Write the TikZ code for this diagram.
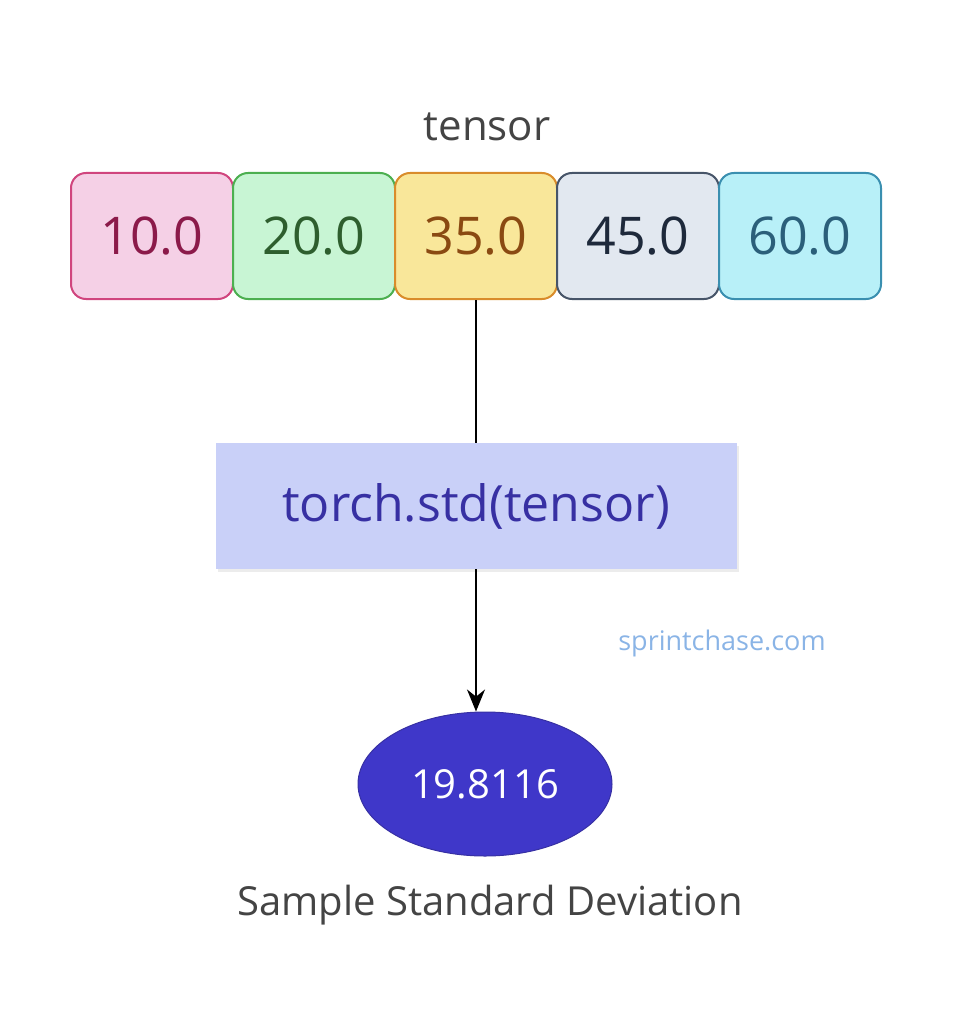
\documentclass[tikz,border=0pt]{standalone}
\usepackage{fontspec}
\setmainfont{Open Sans}
\usetikzlibrary{shapes.geometric,arrows.meta,shadows}
\definecolor{pinkfill}{HTML}{F5D0E6}\definecolor{pinkline}{HTML}{D0457E}\definecolor{pinktext}{HTML}{8B1A4A}
\definecolor{greenfill}{HTML}{C8F5D4}\definecolor{greenline}{HTML}{4CAF50}\definecolor{greentext}{HTML}{2E5E2E}
\definecolor{yellowfill}{HTML}{F9E79A}\definecolor{yellowline}{HTML}{D98C2B}\definecolor{yellowtext}{HTML}{8A4A12}
\definecolor{grayfill}{HTML}{E2E8F0}\definecolor{grayline}{HTML}{475569}\definecolor{graytext}{HTML}{1E293B}
\definecolor{cyanfill}{HTML}{B8F0F8}\definecolor{cyanline}{HTML}{3A8FB0}\definecolor{cyantext}{HTML}{2B5F7A}
\definecolor{funcfill}{HTML}{C9D0F8}\definecolor{functext}{HTML}{3730A3}
\definecolor{resfill}{HTML}{3F37C9}\definecolor{labeltext}{HTML}{444444}
\definecolor{sitetext}{HTML}{8AB4E6}
\tikzset{
  cell/.style={draw,line width=2pt,rounded corners=15pt,minimum width=162pt,minimum height=126pt,
    inner sep=0pt,font=\fontsize{52}{60}\selectfont},
  funcbox/.style={fill=funcfill,minimum width=521pt,minimum height=126pt,text=functext,
    font=\fontsize{50}{58}\selectfont,drop shadow={opacity=0.15,shadow xshift=2pt,shadow yshift=-3pt}},
  result/.style={ellipse,draw=functext,line width=1pt,fill=resfill,minimum width=254pt,minimum height=144pt,
    text=white,inner sep=0pt,font=\fontsize{40}{48}\selectfont},
  flow/.style={line width=2pt,black}
}
\begin{document}
\begin{tikzpicture}[x=1pt,y=-1pt]
\useasboundingbox (0,0) rectangle (954,1024);
\node[font=\fontsize{42}{50}\selectfont,text=labeltext] (title) at (487,127) {tensor};
\node[cell,fill=pinkfill,draw=pinkline,text=pinktext] (v1) at (152,236) {10.0};
\node[cell,fill=greenfill,draw=greenline,text=greentext] (v2) at (314,236) {20.0};
\node[cell,fill=yellowfill,draw=yellowline,text=yellowtext] (v3) at (476,236) {35.0};
\node[cell,fill=grayfill,draw=grayline,text=graytext] (v4) at (638,236) {45.0};
\node[cell,fill=cyanfill,draw=cyanline,text=cyantext] (v5) at (800,236) {60.0};
\node[funcbox] (func) at (476,506) {torch.std(tensor)};
\node[font=\fontsize{27}{32}\selectfont,text=sitetext] (site) at (722,643) {sprintchase.com};
\node[result] (res) at (485,784) {19.8116};
\node[font=\fontsize{40}{48}\selectfont,text=labeltext] (caption) at (490,905) {Sample Standard Deviation};
\draw[flow] (v3.south) -- (func.north);
\draw[flow,-{Stealth[length=22pt,width=18pt]}] (func.south) -- (func.south |- res.north);
\end{tikzpicture}
\end{document}
